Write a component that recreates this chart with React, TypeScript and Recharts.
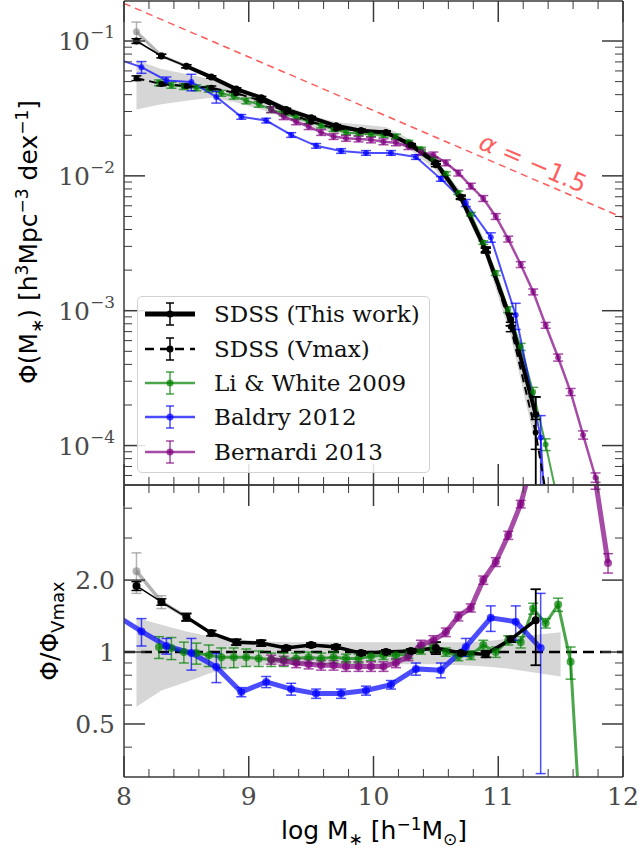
import React from "react";
import {
  ComposedChart,
  Line,
  Area,
  XAxis,
  YAxis,
  ErrorBar,
  ReferenceLine,
} from "recharts";

// ---- SDSS bins (this work, Vmax, alternative low-mass estimate) ----
const SDSS_X = [8.1, 8.3, 8.5, 8.7, 8.9, 9.1, 9.3, 9.5, 9.7, 9.9, 10.1, 10.3, 10.5, 10.7, 10.9, 11.1, 11.3];
const THIS_WORK = [0.1, 0.0774, 0.065, 0.054, 0.044, 0.038, 0.031, 0.027, 0.0235, 0.0216, 0.021, 0.017, 0.0125, 0.0069, 0.0028, 0.00086, 0.00017];
const THIS_WORK_ERR = [0.04, 0.03, 0.025, 0.02, 0.02, 0.02, 0.02, 0.02, 0.02, 0.02, 0.02, 0.02, 0.025, 0.03, 0.04, 0.1, [0.999, 0.35]];
const THIS_RATIO = [1.89, 1.62, 1.4, 1.2, 1.1, 1.09, 1.04, 1.07, 1.05, 0.99, 1.0, 1.01, 1.04, 0.99, 0.98, 1.13, 1.36];
const THIS_RATIO_ERR = [0.08, 0.05, 0.05, 0.03, 0.03, 0.03, 0.02, 0.02, 0.02, 0.02, 0.02, 0.02, 0.06, 0.02, 0.03, 0.03, [0.48, 0.47]];

const VMAX_X = [8.1, 8.3, 8.5, 8.7, 8.9, 9.1, 9.3, 9.5, 9.7, 9.9, 10.1, 10.3, 10.5, 10.7, 10.9, 11.1, 11.3, 11.5];
const VMAX = [0.053, 0.048, 0.0464, 0.045, 0.041, 0.036, 0.0298, 0.0252, 0.0224, 0.0218, 0.021, 0.0168, 0.012, 0.007, 0.00286, 0.00076, 0.000125, 0.00001];
const VMAX_ERR = [0.04, 0.03, 0.03, 0.03, 0.025, 0.02, 0.02, 0.02, 0.02, 0.02, 0.02, 0.02, 0.025, 0.03, 0.04, 0.08, 0.25, 0];

const ALT_X = [8.1, 8.3, 8.5];
const ALT = [0.117, 0.0776, 0.065];
const ALT_ERR = [0.18, 0.04, 0.03];
const ALT_RATIO = [2.18, 1.62, 1.4];
const ALT_RATIO_ERR = [0.42, 0.1, 0.04];

// grey uncertainty band
const TOP_BAND_HI = [0.072, 0.062, 0.057, 0.052, 0.045, 0.039, 0.033, 0.028, 0.025, 0.024, 0.023, 0.0185, 0.0132, 0.0077, 0.0032, 0.00088, 0.00015];
const TOP_BAND_LO = [0.031, 0.034, 0.036, 0.038, 0.035, 0.031, 0.027, 0.023, 0.0206, 0.02, 0.0193, 0.0155, 0.011, 0.0063, 0.0025, 0.00065, 0.0001];
const BAND_X = [8.1, 8.3, 8.5, 8.7, 8.9, 9.1, 9.3, 9.5, 9.7, 9.9, 10.1, 10.3, 10.5, 10.7, 10.9, 11.1, 11.3, 11.5];
const BAND_HI = [1.39, 1.3, 1.22, 1.16, 1.13, 1.11, 1.1, 1.1, 1.1, 1.1, 1.1, 1.1, 1.1, 1.1, 1.11, 1.14, 1.18, 1.21];
const BAND_LO = [0.59, 0.69, 0.75, 0.82, 0.86, 0.88, 0.88, 0.89, 0.89, 0.89, 0.89, 0.89, 0.89, 0.88, 0.87, 0.85, 0.82, 0.79];

// Li & White 2009
const LW_X = [8.28, 8.38, 8.48, 8.58, 8.68, 8.78, 8.88, 8.98, 9.08, 9.18, 9.28, 9.38, 9.48, 9.58, 9.68, 9.78, 9.88, 9.98, 10.08, 10.18, 10.28, 10.38, 10.48, 10.58, 10.68, 10.78, 10.88, 10.98, 11.08, 11.18, 11.28, 11.38, 11.48, 11.58, 11.68];
const LW = [0.049, 0.047, 0.046, 0.045, 0.044, 0.041, 0.039, 0.036, 0.034, 0.031, 0.029, 0.0272, 0.0253, 0.0236, 0.0222, 0.021, 0.0206, 0.0203, 0.0201, 0.0196, 0.0178, 0.0158, 0.0134, 0.0104, 0.0075, 0.0052, 0.0032, 0.0019, 0.00102, 0.00054, 0.00025, 0.000102, 0.000038, 0.000012, 0.000001];
const LW_ERR = [0.05, 0.05, 0.05, 0.05, 0.05, 0.05, 0.05, 0.05, 0.05, 0.05, 0.04, 0.04, 0.04, 0.04, 0.04, 0.04, 0.04, 0.04, 0.04, 0.04, 0.03, 0.03, 0.03, 0.03, 0.03, 0.03, 0.03, 0.04, 0.05, 0.06, 0.08, 0.1, 0, 0, 0];
const LW_RATIO = [1.05, 1.04, 1.0, 0.99, 0.97, 0.95, 0.95, 0.95, 0.94, 0.93, 0.93, 0.94, 0.95, 0.94, 0.95, 0.94, 0.94, 0.96, 0.97, 0.97, 0.98, 1.02, 1.05, 1.0, 0.96, 0.97, 1.07, 1.0, 1.12, 1.1, 1.52, 1.32, 1.58, 0.91, 0.12];
const LW_RATIO_ERR = [0.11, 0.11, 0.1, 0.1, 0.1, 0.09, 0.09, 0.08, 0.07, 0.06, 0.06, 0.05, 0.05, 0.05, 0.05, 0.04, 0.04, 0.04, 0.04, 0.04, 0.04, 0.04, 0.04, 0.04, 0.04, 0.04, 0.05, 0.05, 0.05, 0.06, 0.08, 0.06, 0.1, 0.14, 0];

// Baldry 2012
const B12_X = [7.94, 8.14, 8.34, 8.54, 8.74, 8.94, 9.14, 9.34, 9.54, 9.74, 9.94, 10.14, 10.34, 10.54, 10.74, 10.94, 11.14, 11.34, 11.54];
const B12 = [0.074, 0.064, 0.051, 0.0497, 0.0385, 0.0274, 0.0257, 0.0201, 0.0167, 0.0153, 0.0148, 0.0148, 0.0138, 0.0095, 0.0063, 0.0035, 0.00093, 0.000115, 0.0000001];
const B12_ERR = [0, 0.1, 0.06, 0.14, 0.1, 0.04, 0.04, 0.04, 0.04, 0.04, 0.04, 0.04, 0.04, 0.04, 0.06, 0.08, 0.22, [0.999, 0.45], 0];
const B12_RATIO = [1.42, 1.22, 1.06, 0.99, 0.865, 0.68, 0.75, 0.7, 0.67, 0.67, 0.69, 0.73, 0.85, 0.84, 1.05, 1.39, 1.34, 1.04];
const B12_RATIO_ERR = [0, 0.16, 0.08, 0.15, 0.12, 0.03, 0.04, 0.04, 0.03, 0.03, 0.03, 0.03, 0.05, 0.06, 0.09, 0.17, 0.22, [0.73, 0.72]];

// Bernardi 2013
const B13_X = [9.18, 9.28, 9.38, 9.48, 9.58, 9.68, 9.78, 9.88, 9.98, 10.08, 10.18, 10.28, 10.38, 10.48, 10.58, 10.68, 10.78, 10.88, 10.98, 11.08, 11.18, 11.28, 11.38, 11.48, 11.58, 11.68, 11.78, 11.88];
const B13 = [0.031, 0.0275, 0.0252, 0.0232, 0.021, 0.0196, 0.019, 0.0188, 0.0185, 0.0179, 0.0176, 0.0165, 0.015, 0.0143, 0.0125, 0.0105, 0.0084, 0.0068, 0.005, 0.0034, 0.0022, 0.00138, 0.00078, 0.00045, 0.00025, 0.00012, 0.000058, 0.000025];
const B13_ERR = [0.05, 0.05, 0.05, 0.05, 0.05, 0.05, 0.05, 0.05, 0.05, 0.05, 0.05, 0.05, 0.05, 0.05, 0.05, 0.05, 0.05, 0.05, 0.05, 0.05, 0.05, 0.05, 0.05, 0.06, 0.06, 0.07, 0.08, 0];
const B13_RATIO = [0.93, 0.92, 0.9, 0.89, 0.88, 0.88, 0.87, 0.87, 0.87, 0.87, 0.9, 0.96, 1.07, 1.12, 1.21, 1.41, 1.53, 2.0, 2.38, 3.08, 4.16, 6.5, 10, 16, 25, 12, 5.2, 2.36];
const B13_RATIO_ERR = [0.04, 0.04, 0.04, 0.04, 0.04, 0.04, 0.04, 0.04, 0.04, 0.04, 0.04, 0.04, 0.05, 0.05, 0.05, 0.06, 0.06, 0.08, 0.1, 0.12, 0.15, 0, 0, 0, 0, 0, 0.4, 0.22];

// alpha = -1.5 guide line
const SLOPE_X = [8, 12];
const SLOPE_Y = [0.19, 0.0049];

const X_TICKS = [8, 8.2, 8.4, 8.6, 8.8, 9, 9.2, 9.4, 9.6, 9.8, 10, 10.2, 10.4, 10.6, 10.8, 11, 11.2, 11.4, 11.6, 11.8, 12];
const RATIO_TICKS = [0.4, 0.5, 0.6, 0.7, 0.8, 0.9, 1, 2, 3, 4];
const RATIO_LABELS: Record<string, string> = { "0.5": "0.5", "1": "1", "2": "2.0" };

const TOP_DOMAIN: [number, number] = [5.1e-5, 0.198];
const TOP_Y_TICKS: number[] = [];
for (let e = -5; e <= -1; e++) {
  for (let m = 1; m <= 9; m++) {
    const v = +(m * Math.pow(10, e)).toPrecision(3);
    if (v > TOP_DOMAIN[0] && v < TOP_DOMAIN[1]) TOP_Y_TICKS.push(v);
  }
}

const GREEN = "rgba(0,128,0,0.7)";
const BLUE = "rgba(0,0,255,0.7)";
const PURPLE = "rgba(128,0,128,0.7)";
const GREY = "rgba(128,128,128,0.6)";
const RED = "rgba(255,0,0,0.65)";
const TICK_C = "#3a3a3a";
const LABEL_C = "#4a4a4a";
const SERIF = "'DejaVu Serif', serif";
const SANS = "'DejaVu Sans', sans-serif";

type Err = number | number[];

const relPts = (xs: number[], ys: number[], errs: Err[]) =>
  xs.map((x, i) => {
    const r = errs[i] ?? 0;
    const e = Array.isArray(r) ? [ys[i] * r[0], ys[i] * r[1]] : ys[i] * r;
    return { x, y: ys[i], e };
  });

const absPts = (xs: number[], ys: number[], errs: Err[]) =>
  xs.map((x, i) => ({ x, y: ys[i], e: errs[i] ?? 0 }));

const thisTop = relPts(SDSS_X, THIS_WORK, THIS_WORK_ERR);
const vmaxTop = relPts(VMAX_X, VMAX, VMAX_ERR);
const altTop = relPts(ALT_X, ALT, ALT_ERR);
const lwTop = relPts(LW_X, LW, LW_ERR);
const b12Top = relPts(B12_X, B12, B12_ERR);
const b13Top = relPts(B13_X, B13, B13_ERR);
const topBand = SDSS_X.map((x, i) => ({ x, r: [TOP_BAND_LO[i], TOP_BAND_HI[i]] }));
const slopeLine = SLOPE_X.map((x, i) => ({ x, y: SLOPE_Y[i] }));

const thisBot = absPts(SDSS_X, THIS_RATIO, THIS_RATIO_ERR);
const altBot = absPts(ALT_X, ALT_RATIO, ALT_RATIO_ERR);
const lwBot = absPts(LW_X, LW_RATIO, LW_RATIO_ERR);
const b12Bot = absPts(B12_X.slice(0, B12_RATIO.length), B12_RATIO, B12_RATIO_ERR);
const b13Bot = absPts(B13_X, B13_RATIO, B13_RATIO_ERR);
const botBand = BAND_X.map((x, i) => ({ x, r: [BAND_LO[i], BAND_HI[i]] }));

const isDecade = (v: number) => Math.abs(Math.log10(v) - Math.round(Math.log10(v))) < 1e-6;
const isInt = (v: number) => Math.abs(v - Math.round(v)) < 1e-6;

// ---- inward ticks ----
const LeftLogTick = (p: any) => {
  const v = p.payload.value;
  const major = isDecade(v);
  return (
    <g>
      <line x1={p.x} x2={p.x + (major ? 21 : 8)} y1={p.y} y2={p.y} stroke={TICK_C} strokeWidth={major ? 1.5 : 1} />
      {major && (
        <text x={p.x - 9} y={p.y + 9} textAnchor="end" fontFamily={SERIF} fontSize={25} fill={LABEL_C}>
          10
          <tspan dy={-12} fontSize={17}>
            {"\u2212" + Math.abs(Math.round(Math.log10(v)))}
          </tspan>
        </text>
      )}
    </g>
  );
};

const RightLogTick = (p: any) => {
  const major = isDecade(p.payload.value);
  return <line x1={p.x} x2={p.x - (major ? 21 : 8)} y1={p.y} y2={p.y} stroke={TICK_C} strokeWidth={major ? 1.5 : 1} />;
};

const LeftRatioTick = (p: any) => {
  const v = p.payload.value;
  const lab = RATIO_LABELS[String(v)];
  return (
    <g>
      <line x1={p.x} x2={p.x + (lab ? 21 : 8)} y1={p.y} y2={p.y} stroke={TICK_C} strokeWidth={lab ? 1.5 : 1} />
      {lab && (
        <text x={p.x - 9} y={p.y + 9} textAnchor="end" fontFamily={SERIF} fontSize={25} fill={LABEL_C}>
          {lab}
        </text>
      )}
    </g>
  );
};

const RightRatioTick = (p: any) => {
  const lab = RATIO_LABELS[String(p.payload.value)];
  return <line x1={p.x} x2={p.x - (lab ? 21 : 8)} y1={p.y} y2={p.y} stroke={TICK_C} strokeWidth={lab ? 1.5 : 1} />;
};

const UpTick = (p: any) => {
  const major = isInt(p.payload.value);
  return <line x1={p.x} x2={p.x} y1={p.y} y2={p.y - (major ? 21 : 8)} stroke={TICK_C} strokeWidth={major ? 1.5 : 1} />;
};

const DownTick = (p: any) => {
  const major = isInt(p.payload.value);
  return <line x1={p.x} x2={p.x} y1={p.y} y2={p.y + (major ? 21 : 8)} stroke={TICK_C} strokeWidth={major ? 1.5 : 1} />;
};

const LabelledUpTick = (p: any) => {
  const v = p.payload.value;
  const major = isInt(v);
  return (
    <g>
      <line x1={p.x} x2={p.x} y1={p.y} y2={p.y - (major ? 21 : 8)} stroke={TICK_C} strokeWidth={major ? 1.5 : 1} />
      {major && (
        <text x={p.x} y={p.y + 28} textAnchor="middle" fontFamily={SERIF} fontSize={25} fill={LABEL_C}>
          {Math.round(v)}
        </text>
      )}
    </g>
  );
};

const axisLine = { stroke: TICK_C, strokeWidth: 1.5 };

const xAxes = (bottomTick: any, bottomHeight: number) => [
  <XAxis key="b" xAxisId="b" type="number" dataKey="x" domain={[8, 12]} allowDataOverflow ticks={X_TICKS} interval={0}
    tickSize={0} tickMargin={0} tick={bottomTick} tickLine={false} axisLine={axisLine} height={bottomHeight} orientation="bottom" />,
  <XAxis key="t" xAxisId="t" type="number" dataKey="x" domain={[8, 12]} allowDataOverflow ticks={X_TICKS} interval={0}
    tickSize={0} tickMargin={0} tick={DownTick} tickLine={false} axisLine={axisLine} height={1} orientation="top" />,
];

const dot = (fill: string, r = 3) => ({ r, fill, stroke: "none" });

const series = (data: any[], color: string, width: number, r: number, extra: any = {}, cap = 5) => (
  <Line xAxisId="b" yAxisId="l" data={data} dataKey="y" type="linear" stroke={color} strokeWidth={width}
    dot={r > 0 ? dot(color, r) : false} activeDot={false} isAnimationActive={false} {...extra}>
    <ErrorBar dataKey="e" width={cap} stroke={color} strokeWidth={1.5} direction="y" />
  </Line>
);

function TopPanel() {
  return (
    <ComposedChart width={641} height={486} margin={{ top: 0, right: 0, bottom: 0, left: 0 }}>
      {xAxes(UpTick, 1)}
      <YAxis yAxisId="l" scale="log" type="number" domain={TOP_DOMAIN} allowDataOverflow ticks={TOP_Y_TICKS} interval={0}
        tickSize={0} tickMargin={0} tick={LeftLogTick} tickLine={false} axisLine={axisLine} width={124} />
      <YAxis yAxisId="r" orientation="right" scale="log" type="number" domain={TOP_DOMAIN} allowDataOverflow ticks={TOP_Y_TICKS} interval={0}
        tickSize={0} tickMargin={0} tick={RightLogTick} tickLine={false} axisLine={axisLine} width={18} />
      <Area xAxisId="b" yAxisId="l" data={topBand} dataKey="r" type="linear" fill="#d6d6d6" fillOpacity={1} stroke="none"
        dot={false} activeDot={false} isAnimationActive={false} />
      <Line xAxisId="b" yAxisId="l" data={slopeLine} dataKey="y" type="linear" stroke={RED} strokeWidth={1.5}
        strokeDasharray="7 5" dot={false} activeDot={false} isAnimationActive={false} />
      {series(altTop, GREY, 3, 3.5)}
      {series(lwTop, GREEN, 2, 3)}
      {series(b12Top, BLUE, 2, 3)}
      {series(b13Top, PURPLE, 2.5, 3)}
      {series(vmaxTop, "#000", 2, 3, { strokeDasharray: "8 5" })}
      {series(thisTop, "#000", 1.5, 3.5)}
      {series(thisTop.filter((d) => d.x >= 8.5), "#000", 4, 0)}
    </ComposedChart>
  );
}

function BottomPanel() {
  return (
    <ComposedChart width={641} height={369} margin={{ top: 0, right: 0, bottom: 0, left: 0 }}>
      {xAxes(LabelledUpTick, 76)}
      <YAxis yAxisId="l" scale="log" type="number" domain={[0.3, 5]} allowDataOverflow ticks={RATIO_TICKS} interval={0}
        tickSize={0} tickMargin={0} tick={LeftRatioTick} tickLine={false} axisLine={axisLine} width={124} />
      <YAxis yAxisId="r" orientation="right" scale="log" type="number" domain={[0.3, 5]} allowDataOverflow ticks={RATIO_TICKS} interval={0}
        tickSize={0} tickMargin={0} tick={RightRatioTick} tickLine={false} axisLine={axisLine} width={18} />
      <Area xAxisId="b" yAxisId="l" data={botBand} dataKey="r" type="linear" fill="#d6d6d6" fillOpacity={1} stroke="none"
        dot={false} activeDot={false} isAnimationActive={false} />
      <ReferenceLine xAxisId="b" yAxisId="l" y={1} stroke="#000" strokeWidth={2.5} strokeDasharray="11 6" />
      {series(altBot, GREY, 3.5, 4)}
      {series(lwBot, GREEN, 3, 4)}
      {series(b12Bot, BLUE, 5, 4)}
      {series(b13Bot, PURPLE, 5, 4)}
      {series(thisBot, "#000", 1.5, 4)}
      {series(thisBot.filter((d) => d.x >= 8.5), "#000", 3.5, 0)}
    </ComposedChart>
  );
}

const LEGEND = [
  { label: "SDSS (This work)", color: "#000", width: 5, dash: undefined },
  { label: "SDSS (Vmax)", color: "#000", width: 2.5, dash: "9 6" },
  { label: "Li & White 2009", color: GREEN, width: 2.5, dash: undefined },
  { label: "Baldry 2012", color: BLUE, width: 2.5, dash: undefined },
  { label: "Bernardi 2013", color: PURPLE, width: 2.5, dash: undefined },
];

function Legend() {
  return (
    <div
      style={{
        position: "absolute", left: 137, top: 296, width: 293, height: 177, boxSizing: "border-box",
        border: "1px solid #d2d2d2", borderRadius: 5, background: "rgba(255,255,255,0.85)",
      }}
    >
      {LEGEND.map((it) => (
        <div key={it.label} style={{ display: "flex", alignItems: "center", height: 34.4 }}>
          <svg width={68} height={34} style={{ flex: "none" }}>
            <line x1={7} x2={57} y1={17} y2={17} stroke={it.color} strokeWidth={it.width} strokeDasharray={it.dash} />
            <line x1={32} x2={32} y1={6} y2={28} stroke={it.color} strokeWidth={1.5} />
            <line x1={28} x2={36} y1={6} y2={6} stroke={it.color} strokeWidth={1.5} />
            <line x1={28} x2={36} y1={28} y2={28} stroke={it.color} strokeWidth={1.5} />
            <circle cx={32} cy={17} r={3.5} fill={it.color} />
          </svg>
          <span style={{ fontFamily: SERIF, fontSize: 23, color: "#111", marginLeft: 8, whiteSpace: "nowrap" }}>{it.label}</span>
        </div>
      ))}
    </div>
  );
}

const rotated = (cx: number, cy: number, deg: number): React.CSSProperties => ({
  position: "absolute", left: cx, top: cy, transform: `translate(-50%, -50%) rotate(${deg}deg)`,
  whiteSpace: "nowrap", fontFamily: SANS, fontSize: 25, color: "#000", lineHeight: 1,
});

export default function App() {
  return (
    <div style={{ position: "absolute", left: 0, top: 0, width: 641, height: 854, background: "#fff", overflow: "hidden" }}>
      <div style={{ position: "absolute", left: 0, top: 0 }}>
        <TopPanel />
      </div>
      <div style={{ position: "absolute", left: 0, top: 484 }}>
        <BottomPanel />
      </div>
      <Legend />
      <div style={rotated(30, 242, -90)}>
        Φ(M<sub style={{ fontSize: 17 }}>∗</sub>) [h<sup style={{ fontSize: 17 }}>3</sup>Mpc<sup style={{ fontSize: 17 }}>−3</sup> dex<sup style={{ fontSize: 17 }}>−1</sup>]
      </div>
      <div style={rotated(52, 631, -90)}>
        Φ/Φ<sub style={{ fontSize: 18 }}>Vmax</sub>
      </div>
      <div style={rotated(374, 832, 0)}>
        log M<sub style={{ fontSize: 17 }}>∗</sub> [h<sup style={{ fontSize: 17 }}>−1</sup>M<sub style={{ fontSize: 17 }}>⊙</sub>]
      </div>
      <div style={{ ...rotated(533, 163, 23.3), color: RED }}>
        <i>α</i> = −1.5
      </div>
    </div>
  );
}
